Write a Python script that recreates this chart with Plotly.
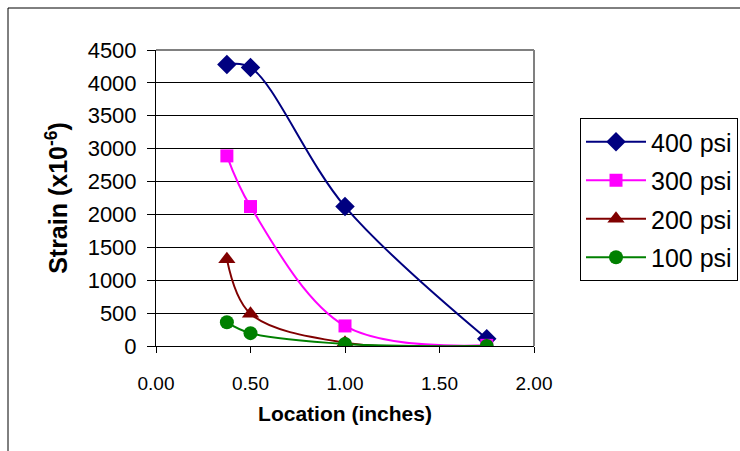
import plotly.graph_objects as go

location = [0.375, 0.5, 1.0, 1.75]
psi_400 = [4280, 4235, 2120, 110]
psi_300 = [2890, 2120, 305, 10]
psi_200 = [1320, 490, 50, 0]
psi_100 = [360, 195, 30, 0]

series = [
    ("400 psi", psi_400, "#000080", "diamond", 15),
    ("300 psi", psi_300, "#FF00FF", "square", 13),
    ("200 psi", psi_200, "#800000", "triangle-up", 15),
    ("100 psi", psi_100, "#008000", "circle", 14),
]

x_ticks = [0.0, 0.5, 1.0, 1.5, 2.0]
y_ticks = [0, 500, 1000, 1500, 2000, 2500, 3000, 3500, 4000, 4500]

FONT = "Liberation Sans, Arial, sans-serif"

fig = go.Figure()
for i, (name, vals, color, sym, sz) in enumerate(series):
    fig.add_trace(go.Scatter(
        x=location, y=vals, name=name, mode="lines+markers",
        line=dict(color=color, width=2, shape="spline", smoothing=1),
        marker=dict(symbol=sym, size=sz, color=color),
        legendgroup=f"g{i}",
    ))

W, H = 740, 451
L, R, T, B = 156, 534, 50, 346
pw, ph = R - L, B - T

fig.update_layout(
    width=W, height=H,
    margin=dict(l=L, r=W - R, t=T, b=H - B, autoexpand=False),
    paper_bgcolor="white", plot_bgcolor="white",
    font=dict(family=FONT, size=19, color="black"),
    showlegend=True,
    legend=dict(
        xref="container", yref="container",
        x=580 / W, y=1 - 118 / H, xanchor="left", yanchor="top",
        bordercolor="black", borderwidth=1, bgcolor="white",
        font=dict(family=FONT, size=25, color="black"),
        tracegroupgap=3, itemwidth=60,
    ),
    xaxis=dict(
        range=[0, 2], tickvals=x_ticks, tickformat=".2f",
        showgrid=False, zeroline=False,
        showline=True, linecolor="black", linewidth=1,
        ticks="outside", ticklen=6, tickcolor="black",
        ticklabelstandoff=14,
        title=dict(text="<b>Location (inches)</b>", font=dict(size=21), standoff=13),
    ),
    yaxis=dict(
        range=[0, 4500], tickvals=y_ticks,
        showgrid=True, gridcolor="black", gridwidth=1, zeroline=False,
        showline=True, linecolor="black", linewidth=1,
        ticks="outside", ticklen=8, tickcolor="black",
        ticklabelstandoff=6, tickfont=dict(size=22),
        title=dict(text="<b>Strain (x10<sup>-6</sup>)</b>", font=dict(size=25), standoff=12),
    ),
    shapes=[
        dict(type="line", xref="paper", yref="paper", x0=0, x1=1, y0=1, y1=1,
             line=dict(color="#808080", width=2), layer="above"),
        dict(type="line", xref="paper", yref="paper", x0=1, x1=1, y0=0, y1=1,
             line=dict(color="#808080", width=2), layer="above"),
        dict(type="rect", xref="paper", yref="paper",
             x0=(8 - L) / pw, x1=(760 - L) / pw, y0=(B - 470) / ph, y1=(B - 8) / ph,
             line=dict(color="black", width=1), layer="below"),
    ],
)

fig.write_html("out.html")
